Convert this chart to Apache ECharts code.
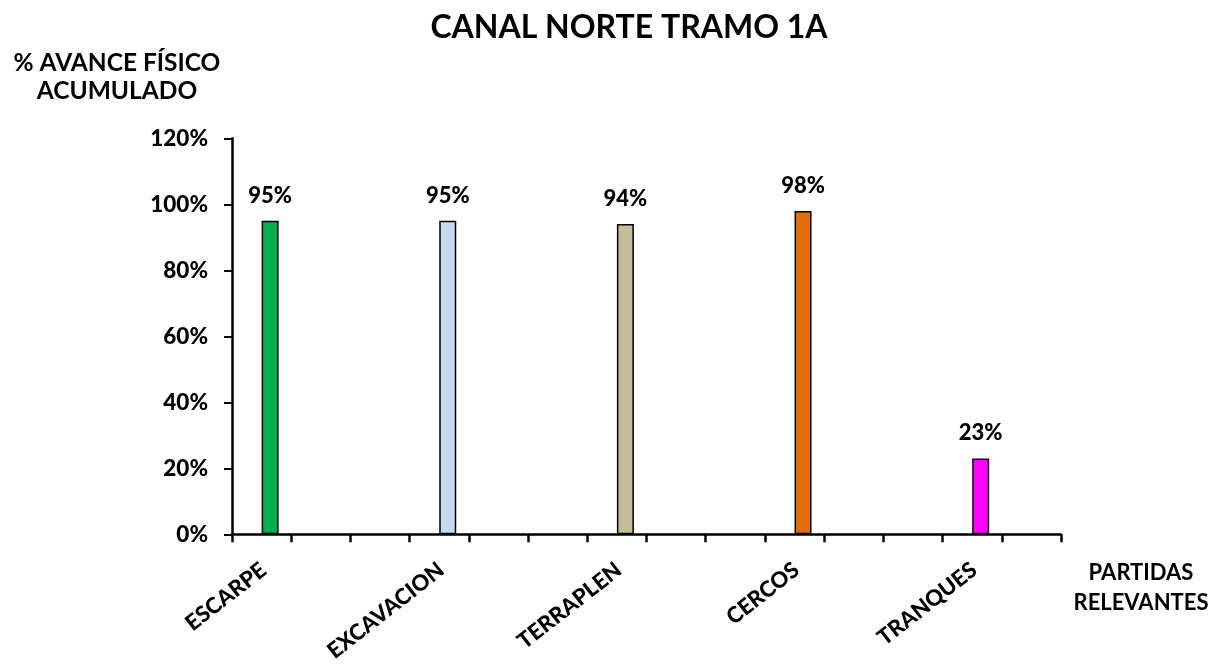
<!DOCTYPE html>
<html>
<head>
<meta charset="utf-8">
<script src="https://cdn.jsdelivr.net/npm/echarts@6/dist/echarts.min.js"></script>
<style>
html,body{margin:0;padding:0;background:#fff;}
#c{width:1220px;height:665px;}
</style>
</head>
<body>
<div id="c"></div>
<script>
// Category slots on the axis (the original axis has 14 slots; named items sit in every third slot)
const slotCount = 14;
const partidas = ['ESCARPE', 'EXCAVACION', 'TERRAPLEN', 'CERCOS', 'TRANQUES'];
const partidaSlots = [0, 3, 6, 9, 12];
const avance = [95, 95, 94, 98, 23];
const colores = ['#00B050', '#C6D9F1', '#C4BD97', '#E46C0A', '#FF00FF'];
const yTicks = [0, 20, 40, 60, 80, 100, 120];

const categories = [];
const barData = [];
const emptyData = [];
for (let i = 0; i < slotCount; i++) { categories.push(''); barData.push('-'); emptyData.push('-'); }
partidas.forEach((p, k) => {
  const s = partidaSlots[k];
  categories[s] = p;
  barData[s] = { value: avance[k], itemStyle: { color: colores[k] } };
});

const FONT = 'Lato';
const chart = echarts.init(document.getElementById('c'), null, { renderer: 'canvas' });
chart.setOption({
  backgroundColor: '#ffffff',
  animation: false,
  title: {
    text: 'CANAL NORTE TRAMO 1A',
    left: 624, top: 7, textAlign: 'center',
    textStyle: { fontFamily: FONT, fontWeight: 'bold', fontSize: 32, color: '#000' }
  },
  graphic: [
    { type: 'text', x: 117, y: 77,
      style: { text: '% AVANCE FÍSICO\nACUMULADO', fontFamily: FONT, fontWeight: 'bold', fontSize: 24.5,
               lineHeight: 28, fill: '#000', align: 'center', verticalAlign: 'middle' } },
    { type: 'text', x: 1141, y: 588,
      style: { text: 'PARTIDAS\nRELEVANTES', fontFamily: FONT, fontWeight: 'bold', fontSize: 22,
               lineHeight: 30, fill: '#000', align: 'center', verticalAlign: 'middle' } }
  ],
  grid: [
    { left: 232, right: 159, top: 138.3, bottom: 130.7, outerBoundsMode: 'none', containLabel: false },
    { left: 234, right: 157, top: 138.3, bottom: 130.7, outerBoundsMode: 'none', containLabel: false }
  ],
  xAxis: [
    { type: 'category', gridIndex: 0, data: categories,
      axisLine: { show: true, lineStyle: { color: '#000', width: 2.5 } },
      axisTick: { show: true, interval: 0, length: 8, lineStyle: { color: '#000', width: 2.5 } },
      axisLabel: { show: false },
      splitLine: { show: false } },
    { type: 'category', gridIndex: 1, data: categories,
      axisLine: { show: false }, axisTick: { show: false }, splitLine: { show: false },
      axisLabel: { show: true, interval: 0, rotate: 38, margin: 33,
        fontFamily: FONT, fontWeight: 900, fontSize: 22, color: '#000' } }
  ],
  yAxis: [
    { type: 'value', gridIndex: 0, min: 0, max: 120, interval: 20,
      axisLine: { show: true, lineStyle: { color: '#000', width: 2.5 } },
      axisTick: { show: true, length: 8, lineStyle: { color: '#000', width: 2 } },
      splitLine: { show: false },
      axisLabel: { margin: 24, formatter: '{value}%', fontFamily: FONT, fontWeight: 900, fontSize: 22.5, color: '#000' } },
    { type: 'value', gridIndex: 1, min: 0, max: 120, show: false, splitLine: { show: false } }
  ],
  series: [
    { type: 'bar', xAxisIndex: 0, yAxisIndex: 0, data: emptyData, barWidth: 17, barGap: '0%' },
    { type: 'bar', xAxisIndex: 0, yAxisIndex: 0, data: barData, barWidth: 17, barGap: '0%',
      itemStyle: { borderColor: '#000', borderWidth: 1.5 },
      label: { show: true, position: 'top', distance: 14, formatter: '{c}%',
        fontFamily: FONT, fontWeight: 900, fontSize: 22, color: '#000' } }
  ]
});
</script>
</body>
</html>
